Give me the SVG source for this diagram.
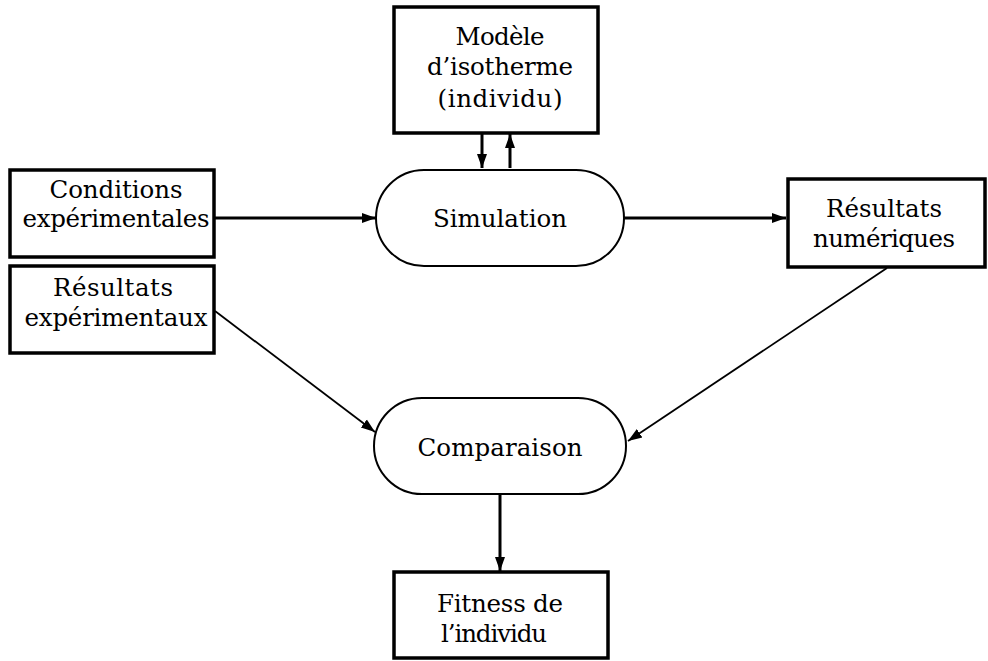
<svg xmlns="http://www.w3.org/2000/svg" width="988" height="661" viewBox="0 0 988 661">
<style>
.box{fill:#fff;stroke:#000;stroke-width:3.5}
.pill{fill:#fff;stroke:#000;stroke-width:2}
.c{stroke:#000;fill:none}
.thick{stroke-width:3}
.thin{stroke-width:1.8}
</style>
<defs>
<marker id="ah" markerUnits="userSpaceOnUse" markerWidth="16" markerHeight="12" refX="14" refY="6" orient="auto">
<path d="M0,1 L14,6 L0,11 Z" fill="#000"/>
</marker>
</defs>
<g id="connectors">
<line class="c thick" x1="482" y1="134" x2="482" y2="168" marker-end="url(#ah)"/>
<line class="c thick" x1="510" y1="168" x2="510" y2="134" marker-end="url(#ah)"/>
<line class="c thick" x1="215" y1="218" x2="376" y2="218" marker-end="url(#ah)"/>
<line class="c thick" x1="624" y1="218" x2="786" y2="218" marker-end="url(#ah)"/>
<line class="c thin" x1="215" y1="311" x2="375" y2="432" marker-end="url(#ah)"/>
<line class="c thin" x1="887" y1="268" x2="628" y2="441" marker-end="url(#ah)"/>
<line class="c thick" x1="500" y1="494" x2="500" y2="571" marker-end="url(#ah)"/>
</g>
<g font-family="DejaVu Serif, serif" font-size="24.5" fill="#000" text-anchor="middle">
<g id="modele">
<rect class="box" x="394" y="7" width="204" height="126"/>
<text x="500" y="45" textLength="89">Modèle</text>
<text x="500" y="75" textLength="146">d’isotherme</text>
<text x="500" y="107" textLength="125">(individu)</text>
</g>
<g id="simulation">
<rect class="pill" x="376" y="170" width="248" height="96" rx="48" ry="48"/>
<text x="500" y="227" textLength="134">Simulation</text>
</g>
<g id="conditions">
<rect class="box" x="10" y="170" width="204" height="87"/>
<text x="116" y="198" textLength="133">Conditions</text>
<text x="116" y="227" textLength="187">expérimentales</text>
</g>
<g id="resexp">
<rect class="box" x="10" y="266" width="204" height="87"/>
<text x="113" y="296" textLength="120">Résultats</text>
<text x="116" y="326" textLength="183">expérimentaux</text>
</g>
<g id="resnum">
<rect class="box" x="788" y="179" width="197" height="88"/>
<text x="884" y="217" textLength="116">Résultats</text>
<text x="884" y="247" textLength="142">numériques</text>
</g>
<g id="comparaison">
<rect class="pill" x="374" y="398" width="252" height="96" rx="48" ry="48"/>
<text x="500" y="456" textLength="165">Comparaison</text>
</g>
<g id="fitness">
<rect class="box" x="394" y="572" width="214" height="86"/>
<text x="500" y="612" textLength="126">Fitness de</text>
<text x="494" y="642" textLength="106">l’individu</text>
</g>
</g>
</svg>
